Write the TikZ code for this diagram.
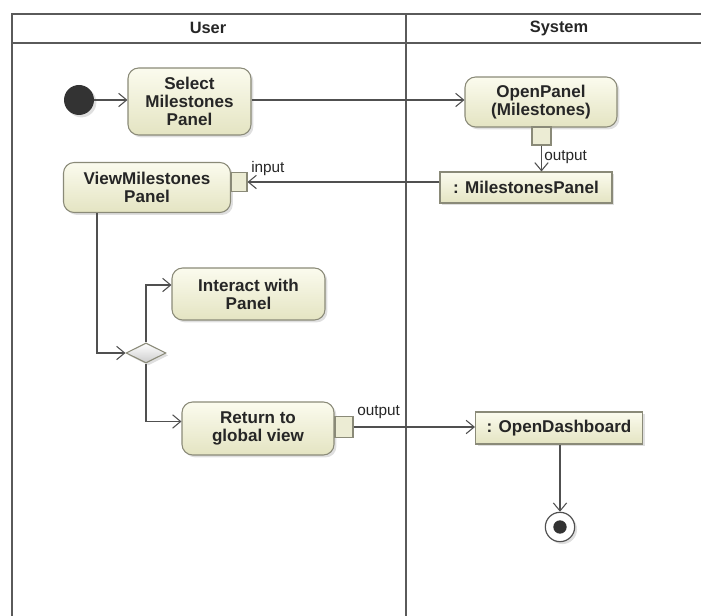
\documentclass[tikz,border=0pt]{standalone}
\usepackage{fontspec}
\setmainfont{Liberation Sans}
\usetikzlibrary{arrows.meta,shapes.geometric,shadows,calc}
\definecolor{fillTop}{HTML}{FBFBEE}
\definecolor{fillBot}{HTML}{E4E4C2}
\definecolor{brd}{HTML}{8A8A78}
\definecolor{ln}{HTML}{505050}
\definecolor{lane}{HTML}{5A5A5A}
\tikzset{
  shd/.style={drop shadow={opacity=0.25,shadow xshift=1.8pt,shadow yshift=-1.8pt}},
  act/.style={draw=brd,line width=0.8pt,rounded corners=8pt,top color=fillTop,bottom color=fillBot,shd,
    align=center,font=\bfseries\fontsize{12.8}{13.6}\selectfont,inner sep=0pt,text=black!85},
  obj/.style={draw=brd,line width=0.8pt,top color=fillTop,bottom color=fillBot,shd,
    align=center,font=\bfseries\fontsize{12.8}{13.6}\selectfont,inner sep=0pt,text=black!85},
  pin/.style={draw=brd,line width=0.8pt,fill=fillBot!70!white,inner sep=0pt},
  arr/.style={draw=ln,line width=0.8pt,-{Straight Barb[length=6pt,width=10pt]}},
  lbl/.style={font=\fontsize{11.5}{12}\selectfont,inner sep=0pt,text=black!85},
  hdr/.style={font=\bfseries\fontsize{12.3}{13}\selectfont,inner sep=0pt,text=black!85},
  lanel/.style={draw=lane,line width=2.2pt}
}
\begin{document}
\begin{tikzpicture}[x=0.75pt,y=-0.75pt]
\useasboundingbox (0,0) rectangle (701,616);
% swimlanes
\draw[lanel] (12,616) -- (12,14) -- (701,14);
\draw[lanel] (12,43) -- (701,43);
\draw[lanel] (406,14) -- (406,616);
\node[hdr] (huser) at (208,28) {User};
\node[hdr] (hsys) at (559,28) {System};
% nodes
\node[circle,fill=black!80,minimum size={30*0.75pt},inner sep=0pt,shd] (init) at (79,100) {};
\node[act,minimum width={123*0.75pt},minimum height={67*0.75pt}] (sel) at (189.5,101.5) {Select\\Milestones\\Panel};
\node[act,minimum width={152*0.75pt},minimum height={50*0.75pt}] (open) at (541,102) {OpenPanel\\(Milestones)};
\node[pin,minimum width={19*0.75pt},minimum height={18*0.75pt}] (opin) at (541.5,136) {};
\node[obj,minimum width={172*0.75pt},minimum height={31*0.75pt}] (mp) at (526,187.5) {: MilestonesPanel};
\node[act,minimum width={167*0.75pt},minimum height={50*0.75pt}] (view) at (147,187.5) {ViewMilestones\\Panel};
\node[pin,minimum width={16*0.75pt},minimum height={19*0.75pt}] (vpin) at (239,182) {};
\node[diamond,draw=brd,line width=0.8pt,top color=white,bottom color=black!20,shd,aspect=2,
  minimum width={40*0.75pt},minimum height={20*0.75pt},inner sep=0pt] (dia) at (146,353) {};
\node[act,minimum width={153*0.75pt},minimum height={52*0.75pt}] (inter) at (248.5,294) {Interact with\\Panel};
\node[act,minimum width={152*0.75pt},minimum height={53*0.75pt}] (ret) at (258,428.5) {Return to\\global view};
\node[pin,minimum width={18*0.75pt},minimum height={21*0.75pt}] (rpin) at (344,427) {};
\node[obj,minimum width={167*0.75pt},minimum height={32*0.75pt}] (od) at (559,428) {: OpenDashboard};
\node[circle,draw=ln,line width=0.9pt,fill=white,minimum size=22pt,inner sep=0pt,shd] (final) at (560,527) {};
\node[circle,fill=black!80,minimum size=10pt,inner sep=0pt] (finaldot) at (final.center) {};
% connectors
\draw[arr] (init) -- (sel.west |- init);
\draw[arr] ($(sel.east)+(0,-1.5)$) -- ($(open.west)+(0,-2)$);
\draw[arr] (opin.south) -- (opin.south |- mp.north);
\node[lbl,anchor=west] (lout1) at (544,157) {output};
\draw[arr] (vpin.east -| mp.west) -- (vpin.east);
\node[lbl,anchor=west] (lin) at (251,169) {input};
\draw[arr] ($(view.south)+(-50,0)$) |- (dia.west);
\draw[arr] (dia.north) |- ($(inter.west)+(0,-9)$);
\draw[arr] (dia.south) |- ($(ret.west)+(0,-7)$);
\draw[arr] (rpin.east) -- (rpin.east -| od.west);
\node[lbl,anchor=west] (lout2) at (357,412) {output};
\draw[arr] (od.south -| final.north) -- (final.north);
\end{tikzpicture}
\end{document}
